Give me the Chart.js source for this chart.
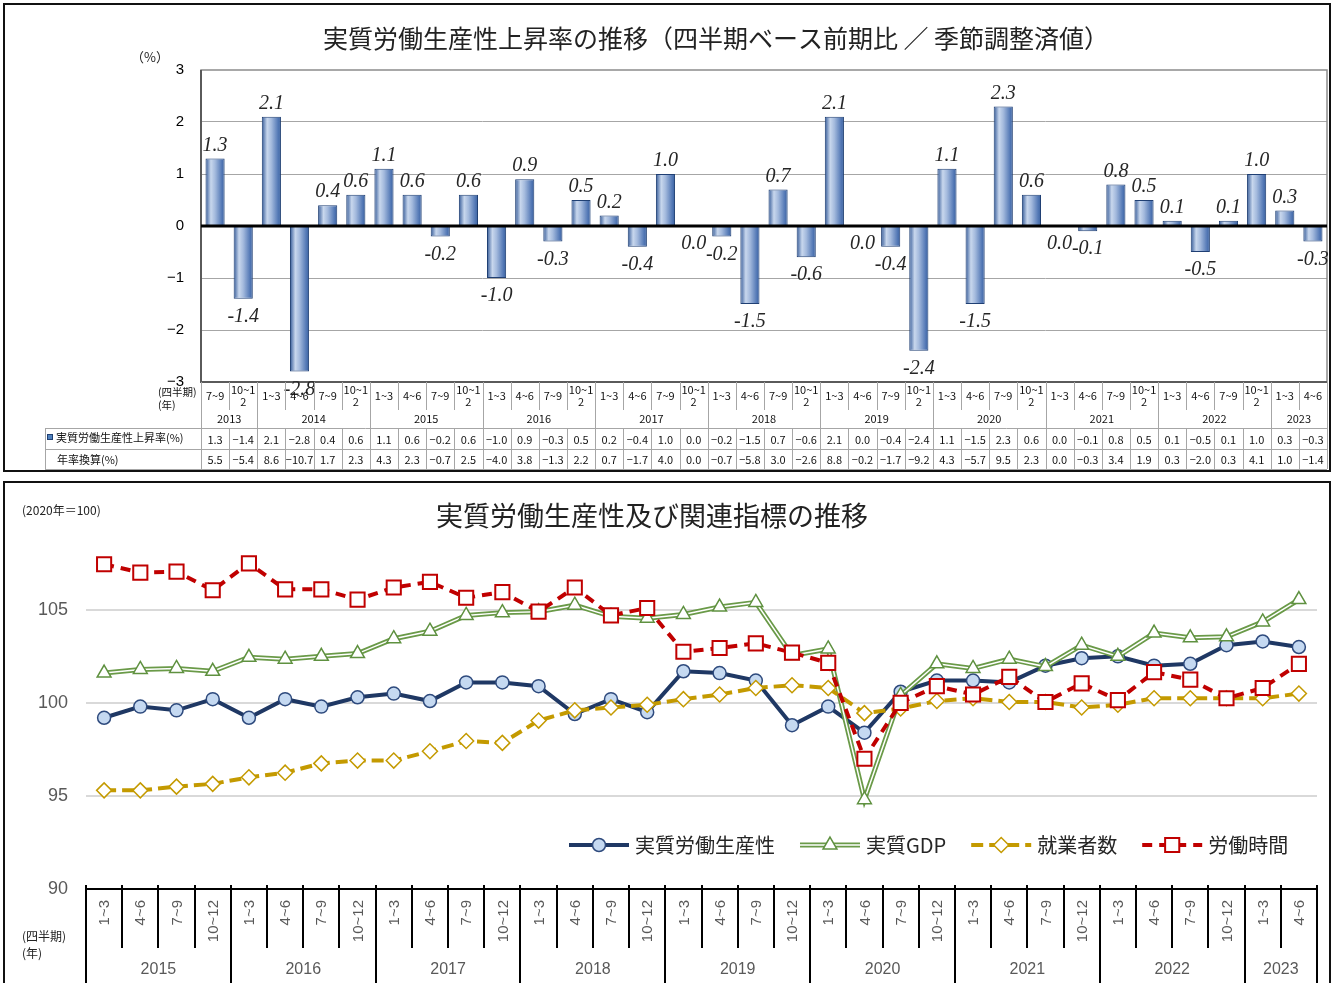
<!DOCTYPE html>
<html lang="ja">
<head>
<meta charset="utf-8">
<title>実質労働生産性の推移</title>
<script src="https://cdn.jsdelivr.net/npm/chart.js@4.4.1/dist/chart.umd.min.js"></script>
<style>
  html, body { margin: 0; padding: 0; background: #fff; overflow: hidden; }
  #panelTop { position: absolute; left: 3px; top: 3px; width: 1324px; height: 465px; border: 2px solid #111; }
  #panelBottom { position: absolute; left: 3px; top: 481px; width: 1324px; height: 510px; border: 2px solid #111; }
  canvas { display: block; }
</style>
</head>
<body>
<div id="panelTop"><canvas id="rateChart" width="1324" height="465"></canvas></div>
<div id="panelBottom"><canvas id="indexChart" width="1324" height="500"></canvas></div>
<script>
const JP = '"Noto Sans CJK JP", "Noto Sans", sans-serif';
const SANS = '"Liberation Sans", Arial, sans-serif';

// 上段：実質労働生産性上昇率（四半期、前期比）
const rateYear = [
  '2013', '2013',
  '2014', '2014', '2014', '2014',
  '2015', '2015', '2015', '2015',
  '2016', '2016', '2016', '2016',
  '2017', '2017', '2017', '2017',
  '2018', '2018', '2018', '2018',
  '2019', '2019', '2019', '2019',
  '2020', '2020', '2020', '2020',
  '2021', '2021', '2021', '2021',
  '2022', '2022', '2022', '2022',
  '2023', '2023'
];
const rateQuarter = [
  '7~9', '10~12',
  '1~3', '4~6', '7~9', '10~12',
  '1~3', '4~6', '7~9', '10~12',
  '1~3', '4~6', '7~9', '10~12',
  '1~3', '4~6', '7~9', '10~12',
  '1~3', '4~6', '7~9', '10~12',
  '1~3', '4~6', '7~9', '10~12',
  '1~3', '4~6', '7~9', '10~12',
  '1~3', '4~6', '7~9', '10~12',
  '1~3', '4~6', '7~9', '10~12',
  '1~3', '4~6'
];
const rateValues = [
  1.3, -1.4,
  2.1, -2.8, 0.4, 0.6,
  1.1, 0.6, -0.2, 0.6,
  -1.0, 0.9, -0.3, 0.5,
  0.2, -0.4, 1.0, 0.0,
  -0.2, -1.5, 0.7, -0.6,
  2.1, 0.0, -0.4, -2.4,
  1.1, -1.5, 2.3, 0.6,
  0.0, -0.1, 0.8, 0.5,
  0.1, -0.5, 0.1, 1.0,
  0.3, -0.3
];
// 年率換算
const annualValues = [
  5.5, -5.4,
  8.6, -10.7, 1.7, 2.3,
  4.3, 2.3, -0.7, 2.5,
  -4.0, 3.8, -1.3, 2.2,
  0.7, -1.7, 4.0, 0.0,
  -0.7, -5.8, 3.0, -2.6,
  8.8, -0.2, -1.7, -9.2,
  4.3, -5.7, 9.5, 2.3,
  0.0, -0.3, 3.4, 1.9,
  0.3, -2.0, 0.3, 4.1,
  1.0, -1.4
];

// 下段：指数（2020年＝100）
const idxYear = [
  '2015', '2015', '2015', '2015',
  '2016', '2016', '2016', '2016',
  '2017', '2017', '2017', '2017',
  '2018', '2018', '2018', '2018',
  '2019', '2019', '2019', '2019',
  '2020', '2020', '2020', '2020',
  '2021', '2021', '2021', '2021',
  '2022', '2022', '2022', '2022',
  '2023', '2023'
];
const idxQuarter = [
  '1~3', '4~6', '7~9', '10~12',
  '1~3', '4~6', '7~9', '10~12',
  '1~3', '4~6', '7~9', '10~12',
  '1~3', '4~6', '7~9', '10~12',
  '1~3', '4~6', '7~9', '10~12',
  '1~3', '4~6', '7~9', '10~12',
  '1~3', '4~6', '7~9', '10~12',
  '1~3', '4~6', '7~9', '10~12',
  '1~3', '4~6'
];
const productivity = [
  99.2, 99.8, 99.6, 100.2,
  99.2, 100.2, 99.8, 100.3,
  100.5, 100.1, 101.1, 101.1,
  100.9, 99.4, 100.2, 99.5,
  101.7, 101.6, 101.2, 98.8,
  99.8, 98.4, 100.6, 101.2,
  101.2, 101.1, 102.0, 102.4,
  102.5, 102.0, 102.1, 103.1,
  103.3, 103.0
];
const realGdp = [
  101.6, 101.8, 101.85, 101.7,
  102.45, 102.35, 102.5, 102.65,
  103.45, 103.85, 104.7, 104.85,
  104.9, 105.25, 104.65, 104.55,
  104.75, 105.15, 105.4, 102.55,
  102.9, 94.8, 100.4, 102.1,
  101.85, 102.35, 101.95, 103.1,
  102.5, 103.75, 103.5, 103.55,
  104.35, 105.55
];
const employed = [
  95.3, 95.3, 95.5, 95.65,
  96.0, 96.25, 96.75, 96.9,
  96.9, 97.4, 97.95, 97.85,
  99.05, 99.6, 99.75, 99.9,
  100.2, 100.45, 100.8, 100.95,
  100.8, 99.45, 99.7, 100.1,
  100.25, 100.05, 100.05, 99.75,
  99.9, 100.25, 100.25, 100.25,
  100.25, 100.5
];
const hours = [
  107.45, 107.0, 107.05, 106.05,
  107.5, 106.1, 106.1, 105.55,
  106.2, 106.5, 105.65, 105.95,
  104.9, 106.2, 104.7, 105.1,
  102.75, 102.95, 103.2, 102.7,
  102.15, 97.0, 100.0, 100.9,
  100.45, 101.4, 100.05, 101.05,
  100.15, 101.65, 101.25, 100.25,
  100.8, 102.1
];
const legendOrder = ['実質労働生産性', '実質GDP', '就業者数', '労働時間'];

function minus(v, digits) {
  const s = digits == null ? String(Math.abs(v)) : Math.abs(v).toFixed(digits);
  return v < 0 ? '−' + s : s;
}

// 棒のグラデーション（左端が濃く、左寄りに明るい帯）
function barFill(c) {
  const chart = c.chart;
  const xs = chart.scales.x;
  if (!chart.chartArea || !xs) return '#4F81BD';
  const cx = xs.getPixelForValue(c.dataIndex);
  const half = 9.5;
  const g = chart.ctx.createLinearGradient(cx - half, 0, cx + half, 0);
  g.addColorStop(0, '#345A98');
  g.addColorStop(0.28, '#C8D7ED');
  g.addColorStop(0.5, '#A4BADD');
  g.addColorStop(0.85, '#5479B6');
  g.addColorStop(1, '#39609F');
  return g;
}

const rateDecor = {
  id: 'rateDecor',
  afterDatasetsDraw(chart) {
    const { ctx, chartArea: a, scales: { y } } = chart;
    const y0 = y.getPixelForValue(0);
    ctx.save();
    ctx.strokeStyle = '#8C8C8C';
    ctx.lineWidth = 1.5;
    ctx.strokeRect(a.left, a.top, a.right - a.left, a.bottom - a.top);
    ctx.strokeStyle = '#5A5A5A';
    ctx.lineWidth = 2;
    ctx.beginPath();
    ctx.moveTo(a.left, a.top);
    ctx.lineTo(a.left, a.bottom);
    ctx.lineTo(a.right, a.bottom);
    ctx.stroke();
    ctx.strokeStyle = '#000';
    ctx.lineWidth = 3;
    ctx.beginPath();
    ctx.moveTo(a.left, y0);
    ctx.lineTo(a.right, y0);
    ctx.stroke();

    // 値ラベル
    ctx.font = 'italic 20px "Liberation Serif", serif';
    ctx.fillStyle = '#262626';
    ctx.textAlign = 'center';
    ctx.textBaseline = 'middle';
    chart.getDatasetMeta(0).data.forEach((bar, i) => {
      const v = rateValues[i];
      const ty = v > 0 ? bar.y - 13 : Math.max(bar.y, y0) + 18;
      ctx.fillText(v.toFixed(1), bar.x, ty);
    });
    ctx.restore();
  },
  afterDraw(chart) {
    const { ctx, chartArea: a, scales: { x } } = chart;
    const n = rateValues.length;
    const cw = (a.right - a.left) / n;
    const yearTop = a.bottom + 28, r1Top = 423, r2Top = 444, tblBottom = 464, leftCol = 40;
    ctx.save();

    ctx.fillStyle = '#222';
    ctx.textAlign = 'center';
    ctx.textBaseline = 'middle';
    ctx.font = '25px ' + JP;
    ctx.fillText('実質労働生産性上昇率の推移（四半期ベース前期比 ／ 季節調整済値）', 711, 33);
    ctx.font = '13px ' + JP;
    ctx.fillText('（%）', 145, 52);

    // 表の罫線
    ctx.strokeStyle = '#A6A6A6';
    ctx.lineWidth = 1;
    ctx.beginPath();
    [r1Top, r2Top, tblBottom].forEach(yy => {
      ctx.moveTo(leftCol, yy + 0.5);
      ctx.lineTo(a.right, yy + 0.5);
    });
    ctx.moveTo(leftCol + 0.5, r1Top);
    ctx.lineTo(leftCol + 0.5, tblBottom);
    for (let i = 0; i <= n; i++) {
      const xx = Math.round(a.left + i * cw) + 0.5;
      const yearEdge = i === 0 || i === n || rateYear[i] !== rateYear[i - 1];
      if (yearEdge) {
        ctx.moveTo(xx, a.bottom);
        ctx.lineTo(xx, tblBottom);
      } else {
        ctx.moveTo(xx, a.bottom);
        ctx.lineTo(xx, yearTop);
        ctx.moveTo(xx, r1Top);
        ctx.lineTo(xx, tblBottom);
      }
    }
    ctx.stroke();

    ctx.fillStyle = '#111';
    ctx.font = '11px ' + JP;
    for (let i = 0; i < n; i++) {
      const cx = x.getPixelForValue(i);
      const q = rateQuarter[i];
      if (ctx.measureText(q).width > cw - 4) {
        ctx.fillText(q.slice(0, -1), cx, a.bottom + 8);
        ctx.fillText(q.slice(-1), cx, a.bottom + 20);
      } else {
        ctx.fillText(q, cx, a.bottom + 14);
      }
      ctx.fillText(minus(rateValues[i], 1), cx, (r1Top + r2Top) / 2 + 1);
      ctx.fillText(minus(annualValues[i], 1), cx, (r2Top + tblBottom) / 2 + 1);
    }
    let start = 0;
    for (let i = 1; i <= n; i++) {
      if (i === n || rateYear[i] !== rateYear[start]) {
        const x1 = a.left + start * cw, x2 = a.left + i * cw;
        ctx.fillText(rateYear[start], (x1 + x2) / 2, yearTop + 9);
        start = i;
      }
    }

    ctx.textAlign = 'left';
    ctx.font = '10.5px ' + JP;
    ctx.fillText('(四半期)', 153, a.bottom + 10);
    ctx.fillText('(年)', 153, a.bottom + 23);
    ctx.font = '11px ' + JP;
    ctx.fillStyle = '#4F81BD';
    ctx.fillRect(42, 429, 6, 6);
    ctx.strokeStyle = '#1F3F73';
    ctx.strokeRect(42.5, 429.5, 5, 5);
    ctx.fillStyle = '#111';
    ctx.fillText('実質労働生産性上昇率(%)', 51, 433);
    ctx.fillText('年率換算(%)', 52, 455);
    ctx.restore();
  }
};

new Chart(document.getElementById('rateChart'), {
  type: 'bar',
  data: {
    labels: rateQuarter.map((q, i) => rateYear[i] + ' ' + q),
    datasets: [{
      label: '実質労働生産性上昇率(%)',
      data: rateValues,
      backgroundColor: barFill,
      borderColor: '#1F3F73',
      borderWidth: 1,
      barPercentage: 0.68,
      categoryPercentage: 1
    }]
  },
  options: {
    responsive: false,
    animation: false,
    layout: { padding: { left: 0, right: 2, top: 65, bottom: 88 } },
    plugins: { legend: { display: false }, tooltip: { enabled: false } },
    scales: {
      x: { display: false, offset: true },
      y: {
        min: -3,
        max: 3,
        ticks: {
          stepSize: 1,
          padding: 17,
          color: '#000',
          font: { family: SANS, size: 15 },
          callback: v => minus(v)
        },
        grid: {
          drawTicks: false,
          color: c => (c.tick.value === 0 || Math.abs(c.tick.value) === 3) ? 'rgba(0,0,0,0)' : '#A6A6A6',
          lineWidth: 1
        },
        border: { display: false },
        afterFit: s => { s.width = 196; }
      }
    }
  },
  plugins: [rateDecor]
});

function drawLegendItem(ctx, ds, outer, x, y) {
  const w = 60;
  ctx.save();
  if (outer) {
    ctx.strokeStyle = outer.borderColor;
    ctx.lineWidth = outer.borderWidth;
    ctx.beginPath();
    ctx.moveTo(x, y);
    ctx.lineTo(x + w, y);
    ctx.stroke();
  }
  ctx.strokeStyle = ds.borderColor;
  ctx.lineWidth = ds.borderWidth;
  ctx.setLineDash(ds.borderDash || []);
  ctx.beginPath();
  ctx.moveTo(x, y);
  ctx.lineTo(x + w, y);
  ctx.stroke();
  ctx.setLineDash([]);
  ctx.fillStyle = ds.pointBackgroundColor;
  ctx.strokeStyle = ds.pointBorderColor;
  ctx.lineWidth = ds.pointBorderWidth;
  Chart.helpers.drawPoint(ctx, {
    pointStyle: ds.pointStyle,
    radius: ds.pointRadius,
    borderWidth: ds.pointBorderWidth,
    rotation: 0
  }, x + w / 2, y);
  ctx.restore();
  return x + w;
}

const indexDecor = {
  id: 'indexDecor',
  afterDraw(chart) {
    const { ctx, chartArea: a, scales: { x } } = chart;
    const n = idxQuarter.length;
    const cw = (a.right - a.left) / n;
    const H = chart.height;
    ctx.save();

    ctx.fillStyle = '#222';
    ctx.textBaseline = 'middle';
    ctx.textAlign = 'center';
    ctx.font = '27px ' + JP;
    ctx.fillText('実質労働生産性及び関連指標の推移', 647, 33);
    ctx.textAlign = 'left';
    ctx.font = '12px ' + JP;
    ctx.fillText('(2020年＝100)', 17, 27);
    ctx.fillText('(四半期)', 17, 453);
    ctx.fillText('(年)', 17, 470);

    // 横軸と区切り線
    ctx.strokeStyle = '#000';
    ctx.lineWidth = 2;
    ctx.beginPath();
    ctx.moveTo(a.left, a.bottom);
    ctx.lineTo(a.right, a.bottom);
    for (let i = 0; i <= n; i++) {
      const xx = Math.round(a.left + i * cw);
      const yearEdge = i === 0 || i === n || idxYear[i] !== idxYear[i - 1];
      ctx.moveTo(xx, a.bottom - 4);
      ctx.lineTo(xx, yearEdge ? H : a.bottom + 59);
    }
    ctx.stroke();

    ctx.fillStyle = '#595959';
    ctx.font = '15px ' + SANS;
    for (let i = 0; i < n; i++) {
      ctx.save();
      ctx.translate(x.getPixelForValue(i), a.bottom + 11);
      ctx.rotate(-Math.PI / 2);
      ctx.textAlign = 'right';
      ctx.fillText(idxQuarter[i], 0, 1);
      ctx.restore();
    }
    ctx.textAlign = 'center';
    ctx.font = '16px ' + SANS;
    let start = 0;
    for (let i = 1; i <= n; i++) {
      if (i === n || idxYear[i] !== idxYear[start]) {
        const x1 = a.left + start * cw, x2 = a.left + i * cw;
        ctx.fillText(idxYear[start], (x1 + x2) / 2, 487);
        start = i;
      }
    }

    // 凡例
    const sets = chart.data.datasets;
    let lx = 564;
    const ly = 362;
    ctx.font = '20px ' + JP;
    ctx.textAlign = 'left';
    legendOrder.forEach(name => {
      const ds = sets.find(d => d.label === name);
      const outer = name === '実質GDP' ? sets.find(d => d.label === '') : null;
      lx = drawLegendItem(ctx, ds, outer, lx, ly) + 6;
      ctx.fillStyle = '#262626';
      ctx.fillText(name, lx, ly);
      lx += ctx.measureText(name).width + 25;
    });
    ctx.restore();
  }
};

new Chart(document.getElementById('indexChart'), {
  type: 'line',
  data: {
    labels: idxQuarter.map((q, i) => idxYear[i] + ' ' + q),
    datasets: [
      {
        label: '労働時間', data: hours, order: 1,
        borderColor: '#C00000', borderWidth: 4, borderDash: [10, 7],
        pointStyle: 'rect', pointRadius: 10,
        pointBackgroundColor: '#fff', pointBorderColor: '#C00000', pointBorderWidth: 2
      },
      {
        label: '就業者数', data: employed, order: 2,
        borderColor: '#C49A00', borderWidth: 4, borderDash: [12, 6],
        pointStyle: 'rectRot', pointRadius: 7.5,
        pointBackgroundColor: '#fff', pointBorderColor: '#C49A00', pointBorderWidth: 1.5
      },
      {
        label: '実質GDP', data: realGdp, order: 3,
        borderColor: '#fff', borderWidth: 1.5,
        pointStyle: 'triangle', pointRadius: 8,
        pointBackgroundColor: '#fff', pointBorderColor: '#5F9140', pointBorderWidth: 1.5
      },
      {
        label: '', data: realGdp, order: 4,
        borderColor: '#6A9A48', borderWidth: 5, pointRadius: 0
      },
      {
        label: '実質労働生産性', data: productivity, order: 5,
        borderColor: '#1F3864', borderWidth: 4,
        pointStyle: 'circle', pointRadius: 6.5,
        pointBackgroundColor: '#C5D9F1', pointBorderColor: '#2E4A7D', pointBorderWidth: 1.5
      }
    ]
  },
  options: {
    responsive: false,
    animation: false,
    layout: { padding: { left: 0, right: 4, top: 71, bottom: 94 } },
    plugins: { legend: { display: false }, tooltip: { enabled: false } },
    elements: { line: { tension: 0 } },
    scales: {
      x: { display: false, offset: true },
      y: {
        min: 90,
        max: 108,
        ticks: {
          stepSize: 5,
          includeBounds: false,
          padding: 18,
          color: '#595959',
          font: { family: SANS, size: 18 }
        },
        grid: {
          drawTicks: false,
          color: c => c.tick.value === 90 ? 'rgba(0,0,0,0)' : '#D9D9D9',
          lineWidth: 2
        },
        border: { display: false },
        afterFit: s => { s.width = 81; }
      }
    }
  },
  plugins: [indexDecor]
});
</script>
</body>
</html>
